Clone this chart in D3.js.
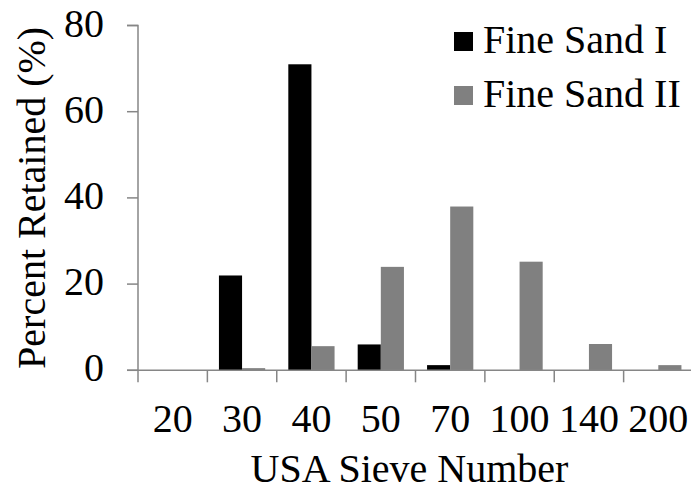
<!DOCTYPE html>
<html>
<head>
<meta charset="utf-8">
<script src="https://cdn.jsdelivr.net/npm/d3@7"></script>
</head>
<body style="margin:0">
<svg id="chart" width="691" height="491"></svg>
<script>
const categories = ["20", "30", "40", "50", "70", "100", "140", "200"];
const seriesNames = ["Fine Sand I", "Fine Sand II"];
const fineSandI  = [0, 22, 71, 6, 1.2, 0, 0, 0];
const fineSandII = [0, 0.5, 5.6, 24, 38, 25.2, 6.1, 1.2];
const yTicks = [0, 20, 40, 60, 80];
const colors = ["#000000", "#808080"];

(function () {
const FONT = "'Liberation Serif', Tinos, serif";
const svg = d3.select("#chart");
const W = 691;
const pLeft = 138, pRight = 693, pTop = 25.5, pBottom = 370.3;

const x = d3.scaleBand().domain(categories).range([pLeft, pRight]).paddingInner(0).paddingOuter(0);
const bw = x.bandwidth();
const xs = d3.scaleBand().domain(seriesNames).range([bw / 6, bw * 5 / 6]).padding(0);
const y = d3.scaleLinear().domain([0, 80]).range([pBottom, pTop]);

const axisColor = "#868686";

// bars
const data = categories.map((c, i) => ({ c, vals: [fineSandI[i], fineSandII[i]] }));
const g = svg.append("g");
data.forEach(d => {
  seriesNames.forEach((s, si) => {
    const v = d.vals[si];
    if (v <= 0) return;
    g.append("rect")
      .attr("x", x(d.c) + xs(s))
      .attr("y", y(v))
      .attr("width", xs.bandwidth())
      .attr("height", y(0) - y(v))
      .attr("fill", colors[si]);
  });
});

// y axis
const ya = svg.append("g");
ya.append("path").attr("fill", "none").attr("stroke", axisColor).attr("stroke-width", 1.5)
  .attr("d", `M${pLeft - 11},${pTop}H${pLeft}V${pBottom}`);
yTicks.forEach(t => {
  ya.append("line").attr("x1", pLeft - 11).attr("x2", pLeft).attr("y1", y(t)).attr("y2", y(t))
    .attr("stroke", axisColor).attr("stroke-width", 1.5);
  ya.append("text").attr("x", pLeft - 34).attr("y", y(t) + 11).attr("text-anchor", "end")
    .attr("font-size", 40).style("font-family", FONT).text(t);
});

// x axis (Excel-style: ticks at category boundaries)
const xa = svg.append("g");
xa.append("line").attr("x1", pLeft - 11).attr("x2", W).attr("y1", pBottom).attr("y2", pBottom)
  .attr("stroke", axisColor).attr("stroke-width", 1.5);
const boundaries = categories.map(c => x(c)).concat([x(categories[categories.length - 1]) + bw]);
boundaries.forEach(b => {
  xa.append("line").attr("x1", b).attr("x2", b).attr("y1", pBottom).attr("y2", pBottom + 12)
    .attr("stroke", axisColor).attr("stroke-width", 1.5);
});
categories.forEach(c => {
  xa.append("text").attr("x", x(c) + bw / 2).attr("y", 432).attr("text-anchor", "middle")
    .attr("font-size", 40).style("font-family", FONT).text(c);
});

// axis titles
svg.append("text").attr("x", (pLeft + pRight) / 2 - 6).attr("y", 482).attr("text-anchor", "middle")
  .attr("font-size", 40).style("font-family", FONT).text("USA Sieve Number");
svg.append("text").attr("transform", `translate(45,${(pTop + pBottom) / 2}) rotate(-90)`)
  .attr("text-anchor", "middle").attr("font-size", 40).style("font-family", FONT).text("Percent Retained (%)");

// legend
const legend = svg.append("g");
seriesNames.forEach((s, i) => {
  const ly = 32 + i * 54;
  legend.append("rect").attr("x", 454).attr("y", ly).attr("width", 19).attr("height", 19).attr("fill", colors[i]);
  legend.append("text").attr("x", 483).attr("y", ly + 21)
    .attr("font-size", 40).style("font-family", FONT).text(s);
});
})();
</script>
</body>
</html>
